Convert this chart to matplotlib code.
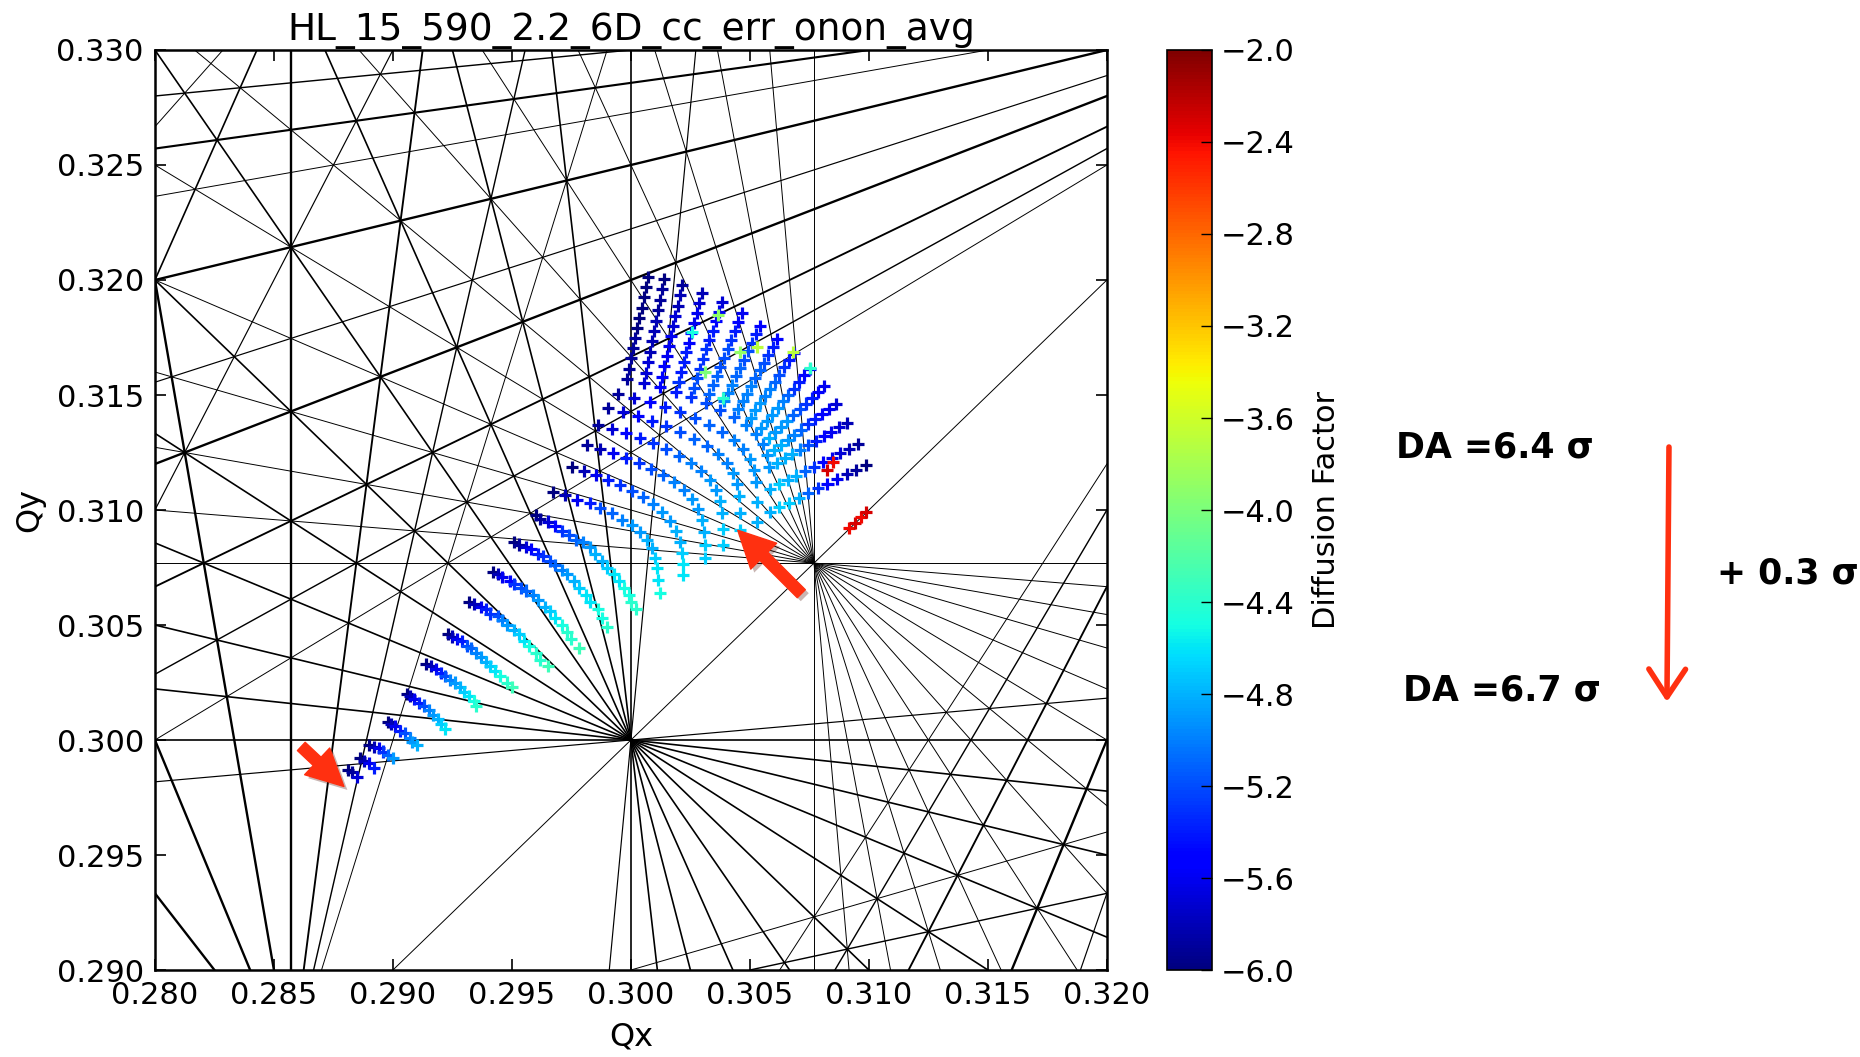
import math

import numpy as np
import matplotlib
matplotlib.use("Agg")
import matplotlib.pyplot as plt
import matplotlib.patheffects as pe
from matplotlib.patches import FancyArrowPatch


TITLE = "HL_15_590_2.2_6D_cc_err_onon_avg"

qx_ticks = [0.280, 0.285, 0.290, 0.295, 0.300, 0.305, 0.310, 0.315, 0.320]
qy_ticks = [0.290, 0.295, 0.300, 0.305, 0.310, 0.315, 0.320, 0.325, 0.330]
cbar_ticks = [-6.0, -5.6, -5.2, -4.8, -4.4, -4.0, -3.6, -3.2, -2.8, -2.4, -2.0]

# highest resonance order drawn in the tune diagram
max_order = 13

# footprint, one list per amplitude arc (small amplitude first)
footprint_qx = [
    [0.2881, 0.2883, 0.2885],
    [0.2886, 0.2888, 0.2890, 0.2892],
    [0.2890, 0.2892, 0.2894, 0.2896, 0.2898, 0.2900],
    [0.2898, 0.2899, 0.2901, 0.2903, 0.2905, 0.2907, 0.2908, 0.2910],
    [0.2906, 0.2907, 0.2909, 0.2911, 0.2913, 0.2915, 0.2917, 0.2919, 0.2920, 0.2922],
    [0.2914, 0.2916, 0.2918, 0.2920, 0.2922, 0.2924, 0.2926, 0.2928, 0.2930, 0.2932, 0.2934, 0.2935],
    [0.2923, 0.2925, 0.2927, 0.2929, 0.2931, 0.2933, 0.2935, 0.2937, 0.2939, 0.2941, 0.2943, 0.2945,
     0.2948, 0.2950],
    [0.2932, 0.2934, 0.2937, 0.2939, 0.2941, 0.2944, 0.2946, 0.2948, 0.2951, 0.2953, 0.2955, 0.2957,
     0.2960, 0.2962, 0.2965],
    [0.2942, 0.2944, 0.2946, 0.2949, 0.2951, 0.2954, 0.2956, 0.2959, 0.2961, 0.2964, 0.2966, 0.2968,
     0.2971, 0.2973, 0.2975, 0.2978],
    [0.2951, 0.2953, 0.2956, 0.2958, 0.2961, 0.2963, 0.2966, 0.2968, 0.2971, 0.2973, 0.2976, 0.2978,
     0.2981, 0.2983, 0.2986, 0.2988, 0.2990],
    [0.2960, 0.2962, 0.2965, 0.2968, 0.2971, 0.2974, 0.2977, 0.2980, 0.2983, 0.2985, 0.2988, 0.2990,
     0.2993, 0.2995, 0.2997, 0.2999, 0.3000, 0.3002],
    [0.29672, 0.29723, 0.29773, 0.29828, 0.29870, 0.29920, 0.29962, 0.30004, 0.30038, 0.30067,
     0.30088, 0.30101, 0.30109, 0.30113, 0.30122],
    [0.29752, 0.29803, 0.29853, 0.29903, 0.29954, 0.30004, 0.30050, 0.30092, 0.30130, 0.30164,
     0.30189, 0.30206, 0.30214, 0.30218, 0.30218],
    [0.29815, 0.29870, 0.29924, 0.29979, 0.30034, 0.30084, 0.30134, 0.30181, 0.30223, 0.30256,
     0.30282, 0.30298, 0.30307, 0.30311, 0.30311],
    [0.29861, 0.29920, 0.29979, 0.30038, 0.30092, 0.30147, 0.30202, 0.30252, 0.30294, 0.30332,
     0.30357, 0.30374, 0.30382, 0.30387, 0.30387],
    [0.29903, 0.29966, 0.30029, 0.30088, 0.30147, 0.30206, 0.30265, 0.30319, 0.30366, 0.30403,
     0.30429, 0.30445, 0.30454, 0.30458, 0.30458],
    [0.29945, 0.30013, 0.30080, 0.30143, 0.30206, 0.30269, 0.30328, 0.30382, 0.30433, 0.30471,
     0.30500, 0.30517, 0.30525, 0.30529, 0.30529],
    [0.29983, 0.30055, 0.30122, 0.30189, 0.30252, 0.30315, 0.30374, 0.30433, 0.30483, 0.30525,
     0.30555, 0.30571, 0.30580, 0.30584, 0.30584],
    [0.29992, 0.30063, 0.30131, 0.30200, 0.30265, 0.30330, 0.30391, 0.30451, 0.30503, 0.30548,
     0.30581, 0.30600, 0.30613, 0.30621, 0.30624],
    [0.30001, 0.30072, 0.30140, 0.30211, 0.30278, 0.30345, 0.30408, 0.30469, 0.30523, 0.30570,
     0.30606, 0.30629, 0.30646, 0.30658, 0.30665],
    [0.30009, 0.30080, 0.30150, 0.30222, 0.30291, 0.30360, 0.30424, 0.30487, 0.30544, 0.30593,
     0.30632, 0.30658, 0.30678, 0.30695, 0.30705],
    [0.30018, 0.30089, 0.30159, 0.30233, 0.30304, 0.30375, 0.30441, 0.30505, 0.30564, 0.30616,
     0.30657, 0.30687, 0.30711, 0.30732, 0.30745],
    [0.30027, 0.30097, 0.30168, 0.30244, 0.30317, 0.30391, 0.30458, 0.30523, 0.30584, 0.30639,
     0.30683, 0.30716, 0.30744, 0.30769, 0.30786],
    [0.30036, 0.30105, 0.30177, 0.30254, 0.30330, 0.30406, 0.30475, 0.30541, 0.30604, 0.30661,
     0.30709, 0.30745, 0.30777, 0.30806, 0.30826],
    [0.30045, 0.30114, 0.30186, 0.30265, 0.30343, 0.30421, 0.30492, 0.30559, 0.30624, 0.30684,
     0.30734, 0.30774, 0.30810, 0.30843, 0.30866],
    [0.30053, 0.30122, 0.30196, 0.30276, 0.30356, 0.30436, 0.30508, 0.30577, 0.30645, 0.30707,
     0.30760, 0.30803, 0.30842, 0.30880, 0.30906],
    [0.30062, 0.30131, 0.30205, 0.30287, 0.30369, 0.30451, 0.30525, 0.30595, 0.30665, 0.30729,
     0.30785, 0.30832, 0.30875, 0.30917, 0.30947],
    [0.30071, 0.30139, 0.30214, 0.30298, 0.30382, 0.30466, 0.30542, 0.30613, 0.30685, 0.30752,
     0.30811, 0.30861, 0.30908, 0.30954, 0.30987],
]

footprint_qy = [
    [0.2987, 0.2986, 0.2984],
    [0.2992, 0.2991, 0.2990, 0.2988],
    [0.2998, 0.2997, 0.29965, 0.2995, 0.29935, 0.2992],
    [0.3008, 0.3007, 0.3006, 0.3004, 0.3003, 0.3001, 0.2999, 0.2998],
    [0.3020, 0.3019, 0.3018, 0.3016, 0.3015, 0.3013, 0.3011, 0.3009, 0.3007, 0.3005],
    [0.3033, 0.3032, 0.3031, 0.3029, 0.3028, 0.3026, 0.3025, 0.3023, 0.3021, 0.3019, 0.3017, 0.3015],
    [0.3046, 0.3045, 0.3044, 0.3043, 0.3041, 0.3040, 0.3038, 0.3036, 0.3034, 0.3032, 0.3030, 0.3028,
     0.3025, 0.3023],
    [0.3060, 0.3059, 0.3058, 0.3057, 0.3055, 0.3054, 0.3052, 0.3050, 0.3048, 0.3046, 0.3043, 0.3041,
     0.3038, 0.3035, 0.3032],
    [0.3073, 0.3072, 0.3071, 0.3069, 0.3068, 0.3066, 0.3065, 0.3063, 0.3061, 0.3058, 0.3056, 0.3053,
     0.3050, 0.3047, 0.3044, 0.3040],
    [0.3086, 0.3085, 0.3084, 0.3083, 0.3081, 0.3080, 0.3078, 0.3076, 0.3074, 0.3072, 0.3069, 0.3066,
     0.3063, 0.3060, 0.3057, 0.3053, 0.3049],
    [0.3098, 0.3096, 0.3095, 0.3093, 0.3091, 0.3089, 0.3087, 0.3086, 0.3084, 0.3081, 0.3078, 0.3075,
     0.3072, 0.3069, 0.3066, 0.3063, 0.3060, 0.3057],
    [0.31078, 0.31065, 0.31043, 0.31030, 0.31009, 0.30987, 0.30957, 0.30935, 0.30904, 0.30870,
     0.30835, 0.30791, 0.30748, 0.30696, 0.30639],
    [0.31187, 0.31170, 0.31152, 0.31130, 0.31109, 0.31083, 0.31057, 0.31026, 0.30991, 0.30952,
     0.30909, 0.30861, 0.30813, 0.30765, 0.30717],
    [0.31283, 0.31265, 0.31248, 0.31226, 0.31204, 0.31178, 0.31152, 0.31122, 0.31087, 0.31048,
     0.31004, 0.30957, 0.30904, 0.30848, 0.30791],
    [0.31370, 0.31352, 0.31335, 0.31313, 0.31291, 0.31265, 0.31235, 0.31204, 0.31170, 0.31130,
     0.31087, 0.31039, 0.30987, 0.30917, 0.30848],
    [0.31443, 0.31426, 0.31409, 0.31387, 0.31365, 0.31339, 0.31309, 0.31278, 0.31243, 0.31204,
     0.31161, 0.31113, 0.31061, 0.30987, 0.30913],
    [0.31504, 0.31487, 0.31470, 0.31448, 0.31426, 0.31400, 0.31370, 0.31339, 0.31304, 0.31265,
     0.31222, 0.31174, 0.31122, 0.31035, 0.30948],
    [0.31570, 0.31552, 0.31535, 0.31513, 0.31491, 0.31465, 0.31435, 0.31404, 0.31370, 0.31330,
     0.31287, 0.31239, 0.31187, 0.31091, 0.30991],
    [0.31614, 0.31597, 0.31579, 0.31556, 0.31532, 0.31504, 0.31472, 0.31438, 0.31401, 0.31358,
     0.31312, 0.31261, 0.31206, 0.31111, 0.31012],
    [0.31659, 0.31642, 0.31624, 0.31599, 0.31574, 0.31543, 0.31508, 0.31472, 0.31433, 0.31387,
     0.31337, 0.31283, 0.31225, 0.31130, 0.31032],
    [0.31703, 0.31688, 0.31668, 0.31642, 0.31615, 0.31583, 0.31545, 0.31506, 0.31464, 0.31415,
     0.31363, 0.31306, 0.31244, 0.31150, 0.31053],
    [0.31747, 0.31733, 0.31712, 0.31685, 0.31656, 0.31622, 0.31581, 0.31540, 0.31495, 0.31443,
     0.31388, 0.31328, 0.31263, 0.31169, 0.31073],
    [0.31792, 0.31778, 0.31757, 0.31728, 0.31698, 0.31661, 0.31618, 0.31574, 0.31527, 0.31472,
     0.31413, 0.31350, 0.31283, 0.31189, 0.31094],
    [0.31836, 0.31823, 0.31801, 0.31771, 0.31739, 0.31700, 0.31654, 0.31607, 0.31558, 0.31500,
     0.31438, 0.31372, 0.31302, 0.31209, 0.31114],
    [0.31880, 0.31868, 0.31845, 0.31814, 0.31780, 0.31739, 0.31691, 0.31641, 0.31589, 0.31528,
     0.31463, 0.31394, 0.31321, 0.31228, 0.31135],
    [0.31924, 0.31914, 0.31889, 0.31857, 0.31821, 0.31779, 0.31727, 0.31675, 0.31620, 0.31556,
     0.31489, 0.31417, 0.31340, 0.31248, 0.31155],
    [0.31969, 0.31959, 0.31934, 0.31900, 0.31863, 0.31818, 0.31764, 0.31709, 0.31652, 0.31585,
     0.31514, 0.31439, 0.31359, 0.31267, 0.31176],
    [0.32013, 0.32004, 0.31978, 0.31943, 0.31904, 0.31857, 0.31800, 0.31743, 0.31683, 0.31613,
     0.31539, 0.31461, 0.31378, 0.31287, 0.31196],
]

footprint_diff = [
    [-6.0, -5.9, -5.7],
    [-6.0, -5.8, -5.6, -5.4],
    [-6.0, -5.8, -5.6, -5.3, -5.1, -4.9],
    [-6.0, -5.8, -5.6, -5.4, -5.2, -5.0, -4.9, -4.8],
    [-6.0, -5.8, -5.6, -5.4, -5.2, -5.0, -4.9, -4.8, -4.7, -4.6],
    [-6.0, -5.8, -5.6, -5.4, -5.2, -5.0, -4.9, -4.8, -4.7, -4.6, -4.5, -4.4],
    [-6.0, -5.8, -5.6, -5.4, -5.2, -5.1, -5.0, -4.9, -4.8, -4.7, -4.6, -4.5, -4.4, -4.3],
    [-6.0, -5.8, -5.6, -5.4, -5.3, -5.2, -5.0, -4.9, -4.8, -4.7, -4.6, -4.5, -4.4, -4.4, -4.3],
    [-6.0, -5.8, -5.6, -5.5, -5.3, -5.2, -5.1, -5.0, -4.9, -4.8, -4.7, -4.6, -4.5, -4.4, -4.4, -4.3],
    [-6.0, -5.9, -5.7, -5.5, -5.4, -5.3, -5.2, -5.1, -5.0, -4.9, -4.8, -4.7, -4.6, -4.6, -4.5, -4.5,
     -4.4],
    [-6.0, -5.9, -5.7, -5.5, -5.3, -5.2, -5.1, -5.0, -4.9, -4.8, -4.8, -4.7, -4.6, -4.6, -4.5, -4.5,
     -4.4, -4.4],
    [-6.0, -5.8, -5.6, -5.4, -5.2, -5.1, -5.0, -4.9, -4.9, -4.8, -4.8, -4.7, -4.6, -4.6, -4.5],
    [-6.0, -5.8, -5.6, -5.4, -5.3, -5.2, -5.1, -5.0, -4.9, -4.9, -4.8, -4.8, -4.7, -4.6, -4.6],
    [-5.9, -5.8, -5.6, -5.4, -5.3, -5.2, -5.1, -5.0, -5.0, -4.9, -4.9, -4.8, -4.8, -4.7, -4.7],
    [-5.9, -5.7, -5.5, -5.4, -5.3, -5.2, -5.1, -5.0, -5.0, -4.9, -4.9, -4.8, -4.8, -4.7, -4.7],
    [-5.9, -5.7, -5.5, -5.4, -5.3, -5.2, -5.1, -5.1, -5.0, -5.0, -4.9, -4.9, -4.8, -4.8, -4.7],
    [-5.9, -5.7, -5.5, -5.4, -5.3, -5.2, -5.1, -5.1, -5.0, -5.0, -4.9, -4.9, -4.9, -4.8, -4.8],
    [-5.9, -5.7, -5.5, -5.4, -5.3, -5.2, -5.2, -5.1, -5.0, -5.0, -5.0, -4.9, -4.9, -4.8, -4.8],
    [-5.9, -5.7, -5.5, -5.3, -5.2, -5.1, -5.0, -5.0, -4.9, -4.9, -4.8, -4.8, -4.8, -4.7, -4.7],
    [-5.9, -5.7, -5.5, -5.4, -5.2, -5.1, -5.0, -5.0, -4.9, -4.9, -4.9, -4.8, -4.8, -4.8, -4.7],
    [-5.9, -5.8, -5.6, -5.4, -5.3, -5.1, -5.0, -5.0, -4.9, -4.9, -4.9, -4.9, -4.8, -4.8, -4.8],
    [-5.9, -5.8, -5.6, -5.4, -5.3, -5.2, -5.1, -5.0, -5.0, -4.9, -4.9, -5.0, -5.0, -5.1, -5.1],
    [-6.0, -5.8, -5.6, -5.5, -5.3, -5.2, -5.1, -5.1, -5.0, -5.0, -5.1, -5.1, -5.2, -5.3, -5.3],
    [-6.0, -5.8, -5.7, -5.5, -5.4, -5.2, -5.2, -5.1, -5.1, -5.1, -5.2, -5.3, -5.4, -5.5, -5.5],
    [-6.0, -5.9, -5.7, -5.6, -5.4, -5.3, -5.2, -5.2, -5.2, -5.3, -5.3, -5.4, -5.5, -5.6, -5.6],
    [-6.0, -5.9, -5.8, -5.6, -5.5, -5.4, -5.3, -5.3, -5.3, -5.4, -5.4, -5.5, -5.6, -5.7, -5.8],
    [-6.0, -5.9, -5.8, -5.7, -5.6, -5.5, -5.4, -5.4, -5.4, -5.5, -5.5, -5.6, -5.7, -5.8, -5.9],
    [-6.0, -6.0, -5.9, -5.8, -5.7, -5.6, -5.5, -5.5, -5.5, -5.6, -5.6, -5.7, -5.8, -5.9, -6.0],
]

# single particles that stand out in colour
outlier_qx = [0.30366, 0.30256, 0.30529, 0.30458, 0.30681, 0.30311, 0.30752, 0.30387,
              0.30824, 0.30849, 0.30915, 0.30940, 0.30965, 0.30988]
outlier_qy = [0.31848, 0.31774, 0.31709, 0.31687, 0.31687, 0.31600, 0.31617, 0.31487,
              0.31174, 0.31209, 0.30920, 0.30945, 0.30968, 0.30990]
outlier_diff = [-3.9, -4.5, -3.7, -3.9, -3.7, -4.0, -4.4, -4.4,
                -2.3, -2.4, -2.4, -2.3, -2.4, -2.3]

# red arrows inside the diagram: (tail, tip) in tune units
arrow_upper = ((0.30716, 0.30636), (0.30449, 0.30912))
arrow_lower = ((0.28615, 0.29972), (0.28794, 0.29798))

ARROW_RED = "#ff3010"


def resonance_lines(order_max, qx_range, qy_range):
    lines = []
    for m in range(0, order_max + 1):
        for n in range(-order_max, order_max + 1):
            order = abs(m) + abs(n)
            if order == 0 or order > order_max:
                continue
            if m == 0 and n < 0:
                continue
            values = [m * qx + n * qy for qx in qx_range for qy in qy_range]
            for p in range(math.ceil(min(values)), math.floor(max(values)) + 1):
                if math.gcd(math.gcd(m, abs(n)), abs(p)) != 1:
                    continue
                lines.append((m, n, p, order))
    return lines


def line_width(order, p):
    if p == 0:
        return 0.7
    return min(1.7, max(0.7, 1.7 - 0.17 * (order - 7)))


fig = plt.figure(figsize=(18.6, 10.57), dpi=100)
ax = fig.add_axes([0.0833, 0.0823, 0.5118, 0.8704])
cax = fig.add_axes([0.6274, 0.0823, 0.0242, 0.8704])

qx_range = (qx_ticks[0], qx_ticks[-1])
qy_range = (qy_ticks[0], qy_ticks[-1])

for m, n, p, order in resonance_lines(max_order, qx_range, qy_range):
    lw = line_width(order, p)
    if n == 0:
        ax.axvline(p / m, color="black", lw=lw, zorder=1)
    elif m == 0:
        ax.axhline(p / n, color="black", lw=lw, zorder=1)
    else:
        ax.axline((0.30, (p - m * 0.30) / n), slope=-m / n, color="black", lw=lw, zorder=1)

for xs, ys, ds in zip(footprint_qx, footprint_qy, footprint_diff):
    assert len(xs) == len(ys) == len(ds)

qx_all = np.concatenate([np.asarray(a) for a in footprint_qx])
qy_all = np.concatenate([np.asarray(a) for a in footprint_qy])
diff_all = np.concatenate([np.asarray(a) for a in footprint_diff])

sc = ax.scatter(qx_all, qy_all, c=diff_all, cmap="jet", vmin=-6.0, vmax=-2.0,
                marker="+", s=75, linewidths=2.3, zorder=3)
ax.scatter(outlier_qx, outlier_qy, c=outlier_diff, cmap="jet", vmin=-6.0, vmax=-2.0,
           marker="+", s=75, linewidths=2.3, zorder=4)

shadow = [pe.SimplePatchShadow(offset=(2.5, -2.5), alpha=0.3), pe.Normal()]
for tail, tip in (arrow_upper, arrow_lower):
    ann = ax.annotate(
        "", xy=tip, xytext=tail, zorder=5,
        arrowprops=dict(
            arrowstyle="simple,head_length=1.1,head_width=1.1,tail_width=0.34",
            mutation_scale=24, color=ARROW_RED, shrinkA=0, shrinkB=0,
        ),
    )
    ann.arrow_patch.set_path_effects(shadow)

ax.set_xlim(*qx_range)
ax.set_ylim(*qy_range)
ax.set_xticks(qx_ticks)
ax.set_yticks(qy_ticks)
ax.tick_params(direction="in", length=8, width=1.2, top=True, right=True,
               labelsize=22, pad=8)
for spine in ax.spines.values():
    spine.set_linewidth(1.8)

ax.set_title(TITLE, fontsize=27, pad=7)
ax.set_xlabel("Qx", fontsize=23, labelpad=8)
ax.set_ylabel("Qy", fontsize=23, labelpad=8)

cb = fig.colorbar(sc, cax=cax, ticks=cbar_ticks)
cb.outline.set_linewidth(1.2)
cax.tick_params(direction="in", length=8, width=1.0, labelsize=22, pad=6)
cb.set_label("Diffusion Factor", fontsize=22, labelpad=13)

# annotations on the right of the figure
fig.text(0.7505, 0.5762, "DA =6.4 \u03c3", fontsize=25, fontweight="bold",
         ha="left", va="center")
fig.text(0.7543, 0.3463, "DA =6.7 \u03c3", fontsize=25, fontweight="bold",
         ha="left", va="center")
fig.text(0.9231, 0.4570, "+ 0.3 \u03c3", fontsize=25, fontweight="bold",
         ha="left", va="center")

shift_arrow = FancyArrowPatch(
    (0.8973, 0.5771), (0.8962, 0.3359), transform=fig.transFigure,
    arrowstyle="->,head_length=0.5,head_width=0.33", mutation_scale=40,
    color=ARROW_RED, lw=4.0, shrinkA=0, shrinkB=0,
)
fig.add_artist(shift_arrow)

fig.savefig("out.png", dpi=100, facecolor="white")
